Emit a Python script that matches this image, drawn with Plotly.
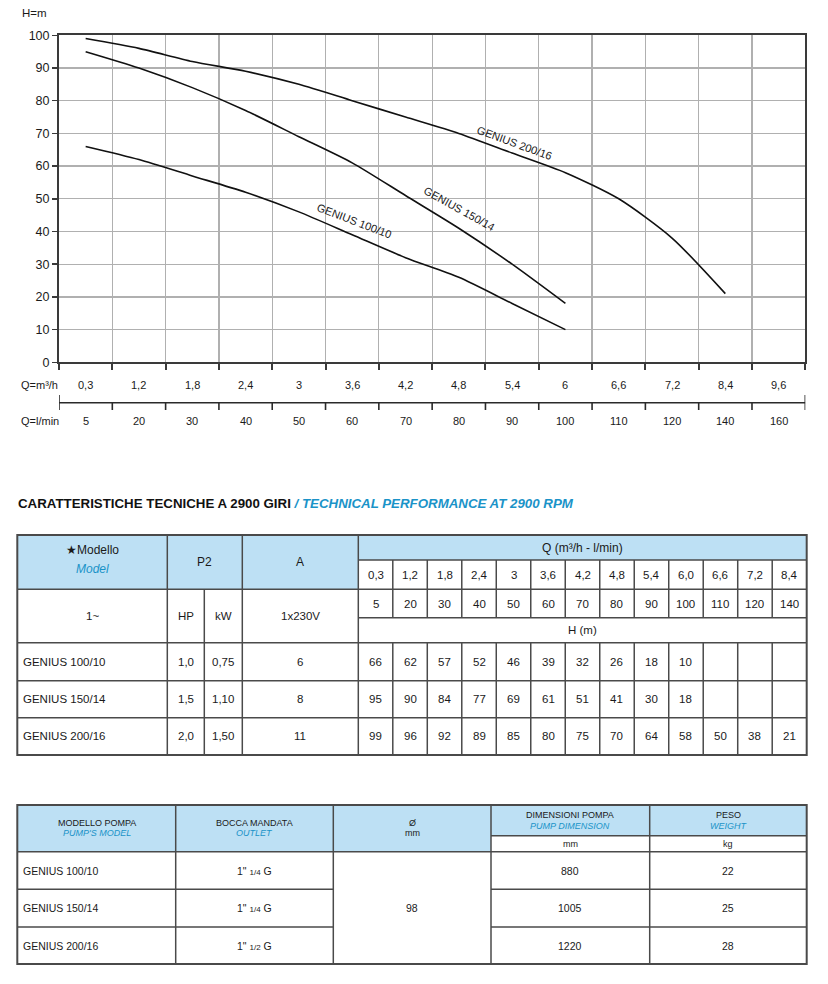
import plotly.graph_objects as go

# page has an 8px body margin: the figure is placed at (8, 8)
OFF = 8
W, H = 812, 968
FONT = "Liberation Sans, Arial, sans-serif"
BLUE_TXT = "#1a93c8"
HEAD_FILL = "#bde0f4"
LINE_C = "#4a4a4a"

# ---------------- data ----------------
models = ["GENIUS 100/10", "GENIUS 150/14", "GENIUS 200/16"]
hp = ["1,0", "1,5", "2,0"]
kw = ["0,75", "1,10", "1,50"]
amps = ["6", "8", "11"]
q_m3h_table = ["0,3", "1,2", "1,8", "2,4", "3", "3,6", "4,2", "4,8", "5,4", "6,0", "6,6", "7,2", "8,4"]
q_lmin_table = ["5", "20", "30", "40", "50", "60", "70", "80", "90", "100", "110", "120", "140"]
h_100_10 = [66, 62, 57, 52, 46, 39, 32, 26, 18, 10]
h_150_14 = [95, 90, 84, 77, 69, 61, 51, 41, 30, 18]
h_200_16 = [99, 96, 92, 89, 85, 80, 75, 70, 64, 58, 50, 38, 21]
curves = [h_100_10, h_150_14, h_200_16]

axis_m3h_labels = ["0,3", "1,2", "1,8", "2,4", "3", "3,6", "4,2", "4,8", "5,4", "6", "6,6", "7,2", "8,4", "9,6"]
axis_lmin_labels = ["5", "20", "30", "40", "50", "60", "70", "80", "90", "100", "110", "120", "140", "160"]
y_ticks = list(range(0, 101, 10))

outlets = ["1\" <span style='font-size:8px'>1/4</span> G",
           "1\" <span style='font-size:8px'>1/4</span> G",
           "1\" <span style='font-size:8px'>1/2</span> G"]
diameter = "98"
dimensions = ["880", "1005", "1220"]
weights = ["22", "25", "28"]

# curve label placement (data coords) and angles
curve_labels = [("GENIUS 100/10", 5.55, 43.3, 21), ("GENIUS 150/14", 7.52, 47.0, 29), ("GENIUS 200/16", 8.55, 67.0, 20)]


def px(x):
    return (x - OFF) / W


def py(y):
    return 1 - (y - OFF) / H


shapes = []
annos = []


def hline(x0, x1, y, color=LINE_C, width=1.5, xref="paper"):
    shapes.append(dict(type="line", xref=xref, yref="paper", x0=x0 if xref != "paper" else px(x0),
                       x1=x1 if xref != "paper" else px(x1), y0=py(y), y1=py(y),
                       line=dict(color=color, width=width)))


def vline(x, y0, y1, color=LINE_C, width=1.5, xref="paper"):
    xx = x if xref != "paper" else px(x)
    shapes.append(dict(type="line", xref=xref, yref="paper", x0=xx, x1=xx, y0=py(y0), y1=py(y1),
                       line=dict(color=color, width=width)))


def rect(x0, x1, y0, y1, fill, line_w=0, line_c=LINE_C):
    shapes.append(dict(type="rect", xref="paper", yref="paper", x0=px(x0), x1=px(x1), y0=py(y1), y1=py(y0),
                       fillcolor=fill, line=dict(width=line_w, color=line_c), layer="below"))


def text(x, y, s, size=11, color="#1a1a1a", anchor="center", xref="paper"):
    annos.append(dict(x=x if xref != "paper" else px(x), y=py(y), xref=xref, yref="paper", text=s,
                      showarrow=False, xanchor=anchor, yanchor="middle",
                      font=dict(family=FONT, size=size, color=color)))


fig = go.Figure()

# ---------------- chart ----------------
X_L, X_R, Y_T, Y_B = 59.0, 805.3, 35.3, 362.3
n_int = len(axis_m3h_labels)
for h in curves:
    fig.add_trace(go.Scatter(x=[i + 0.5 for i in range(len(h))], y=h, mode="lines",
                             line=dict(color="#111111", width=1.6, shape="spline", smoothing=0.7),
                             hoverinfo="skip", showlegend=False))

for name, xv, yv, ang in curve_labels:
    annos.append(dict(x=xv, y=yv, xref="x", yref="y", text=name, showarrow=False, textangle=ang,
                      font=dict(family=FONT, size=11, color="#1a1a1a")))

fig.update_layout(
    xaxis=dict(domain=[px(X_L), px(X_R)], range=[0, n_int], tickvals=list(range(n_int + 1)),
               showticklabels=False, showgrid=True, gridcolor="#b0b0b0", gridwidth=1.3,
               showline=True, linecolor="#3a3a3a", linewidth=2, mirror=True, automargin=False,
               ticks="outside", ticklen=6, tickwidth=2, tickcolor="#3a3a3a", zeroline=False, fixedrange=True),
    yaxis=dict(domain=[py(Y_B), py(Y_T)], range=[0, 100], tickvals=y_ticks, automargin=False,
               showgrid=True, gridcolor="#b0b0b0", gridwidth=1.3,
               showline=True, linecolor="#3a3a3a", linewidth=2, mirror=True,
               ticks="outside", ticklen=5, tickwidth=1.5, tickcolor="#3a3a3a", zeroline=False,
               tickfont=dict(family=FONT, size=12.5, color="#1a1a1a"), fixedrange=True),
)

text(20, 13, "H=m", size=11.5, anchor="left")
text(19, 385, "Q=m³/h", size=11, anchor="left")
text(19, 421, "Q=l/min", size=11, anchor="left")
for i, lab in enumerate(axis_m3h_labels):
    text(i + 0.5, 385, lab, size=11, xref="x")
for i, lab in enumerate(axis_lmin_labels):
    text(i + 0.5, 421, lab, size=11, xref="x")

# second (l/min) axis line with ticks
hline(0, n_int, 402.7, color="#2a2a2a", width=1.6, xref="x")
for i in range(n_int + 1):
    if i in (0, n_int):
        vline(i, 395, 410, color="#2a2a2a", width=1.6, xref="x")
    else:
        vline(i, 402.7, 410, color="#2a2a2a", width=1.6, xref="x")

# ---------------- title ----------------
text(16, 503, "<b>CARATTERISTICHE TECNICHE A 2900 GIRI</b><b><i><span style='color:%s'> / TECHNICAL PERFORMANCE AT 2900 RPM</span></i></b>" % BLUE_TXT,
     size=13.3, color="#111111", anchor="left")

# ---------------- table 1 ----------------
T_L, T_R = 17.3, 806.7
c_model, c_hpkw, c_a, c_q = 167.3, 204.3, 242.3, 358.3
nq = len(q_m3h_table)
qw = (T_R - c_q) / nq
q_edges = [c_q + i * qw for i in range(nq + 1)]
r_top, r_qh, r_q1, r_q2, r_hm = 535.0, 560.0, 589.3, 617.7, 642.7
data_rows = [642.7, 680.7, 717.7, 755.0]

rect(T_L, c_q, r_top, r_q1, HEAD_FILL)
rect(c_q, T_R, r_top, r_qh, HEAD_FILL)

hline(c_q, T_R, r_qh)
hline(T_L, T_R, r_q1)
hline(c_q, T_R, r_q2)
hline(T_L, T_R, r_hm)
for yv in data_rows[1:-1]:
    hline(T_L, T_R, yv)
for xv in (c_model, c_a, c_q):
    vline(xv, r_top, data_rows[-1])
vline(c_hpkw, r_q1, data_rows[-1])
for xv in q_edges[1:-1]:
    vline(xv, r_qh, r_q2)
    vline(xv, r_hm, data_rows[-1])
rect(T_L, T_R, r_top, data_rows[-1], "rgba(0,0,0,0)", line_w=2, line_c="#4a4a4a")

mid_model = (T_L + c_model) / 2
mid_hp = (c_model + c_hpkw) / 2
mid_kw = (c_hpkw + c_a) / 2
mid_a = (c_a + c_q) / 2
mid_q = (c_q + T_R) / 2
text(mid_model, 550, "★Modello", size=12)
text(mid_model, 569, "<i>Model</i>", size=12, color=BLUE_TXT)
text((c_model + c_a) / 2, 562, "P2", size=12)
text(mid_a, 562, "A", size=12)
text(mid_q, 548, "Q (m³/h - l/min)", size=12)
for i in range(nq):
    cx = (q_edges[i] + q_edges[i + 1]) / 2
    text(cx, (r_qh + r_q1) / 2, q_m3h_table[i], size=11.5)
    text(cx, (r_q1 + r_q2) / 2, q_lmin_table[i], size=11.5)
text(mid_q, (r_q2 + r_hm) / 2, "H (m)", size=11.5)
text(mid_model, 616, "1~", size=11.5)
text(mid_hp, 616, "HP", size=11.5)
text(mid_kw, 616, "kW", size=11.5)
text(mid_a, 616, "1x230V", size=11.5)

for r, (m, a_hp, a_kw, a_amp, hv) in enumerate(zip(models, hp, kw, amps, curves)):
    cy = (data_rows[r] + data_rows[r + 1]) / 2
    text(21, cy, m, size=11.5, anchor="left")
    text(mid_hp, cy, a_hp, size=11.5)
    text(mid_kw, cy, a_kw, size=11.5)
    text(mid_a, cy, a_amp, size=11.5)
    for i, v in enumerate(hv):
        text((q_edges[i] + q_edges[i + 1]) / 2, cy, str(v), size=11.5)

# ---------------- table 2 ----------------
S_L, S_R = 17.3, 806.7
cols2 = [S_L, 175.7, 333.3, 491.0, 649.7, S_R]
s_top, s_sub, s_head = 805.0, 835.7, 851.7
rows2 = [851.7, 889.3, 927.0, 964.0]

rect(S_L, cols2[3], s_top, s_head, HEAD_FILL)
rect(cols2[3], S_R, s_top, s_sub, HEAD_FILL)
hline(cols2[3], S_R, s_sub)
hline(S_L, S_R, s_head)
for yv in rows2[1:-1]:
    hline(S_L, cols2[2], yv)
    hline(cols2[3], S_R, yv)
for xv in cols2[1:-1]:
    vline(xv, s_top, rows2[-1])
rect(S_L, S_R, s_top, rows2[-1], "rgba(0,0,0,0)", line_w=2, line_c="#4a4a4a")

mids2 = [(cols2[i] + cols2[i + 1]) / 2 for i in range(5)]
text(mids2[0], 823, "MODELLO POMPA", size=9)
text(mids2[0], 833, "<i>PUMP'S MODEL</i>", size=9, color=BLUE_TXT)
text(mids2[1], 823, "BOCCA MANDATA", size=9)
text(mids2[1], 833, "<i>OUTLET</i>", size=9, color=BLUE_TXT)
text(mids2[2], 823, "Ø", size=9)
text(mids2[2], 833, "mm", size=9)
text(mids2[3], 815, "DIMENSIONI POMPA", size=9)
text(mids2[3], 826, "<i>PUMP DIMENSION</i>", size=9, color=BLUE_TXT)
text(mids2[4], 815, "PESO", size=9)
text(mids2[4], 826, "<i>WEIGHT</i>", size=9, color=BLUE_TXT)
text(mids2[3], 844, "mm", size=9)
text(mids2[4], 844, "kg", size=9)
for r in range(3):
    cy = (rows2[r] + rows2[r + 1]) / 2
    text(21, cy, models[r], size=10.5, anchor="left")
    text(mids2[1], cy, outlets[r], size=10.5)
    text(mids2[3], cy, dimensions[r], size=10.5)
    text(mids2[4], cy, weights[r], size=10.5)
text(mids2[2], (rows2[0] + rows2[-1]) / 2, diameter, size=10.5)

fig.update_layout(width=W, height=H, margin=dict(l=0, r=0, t=0, b=0, pad=0), autosize=False,
                  paper_bgcolor="white", plot_bgcolor="white", shapes=shapes, annotations=annos,
                  showlegend=False, hovermode=False)
fig.write_html("out.html", config={"displayModeBar": False, "staticPlot": True})
